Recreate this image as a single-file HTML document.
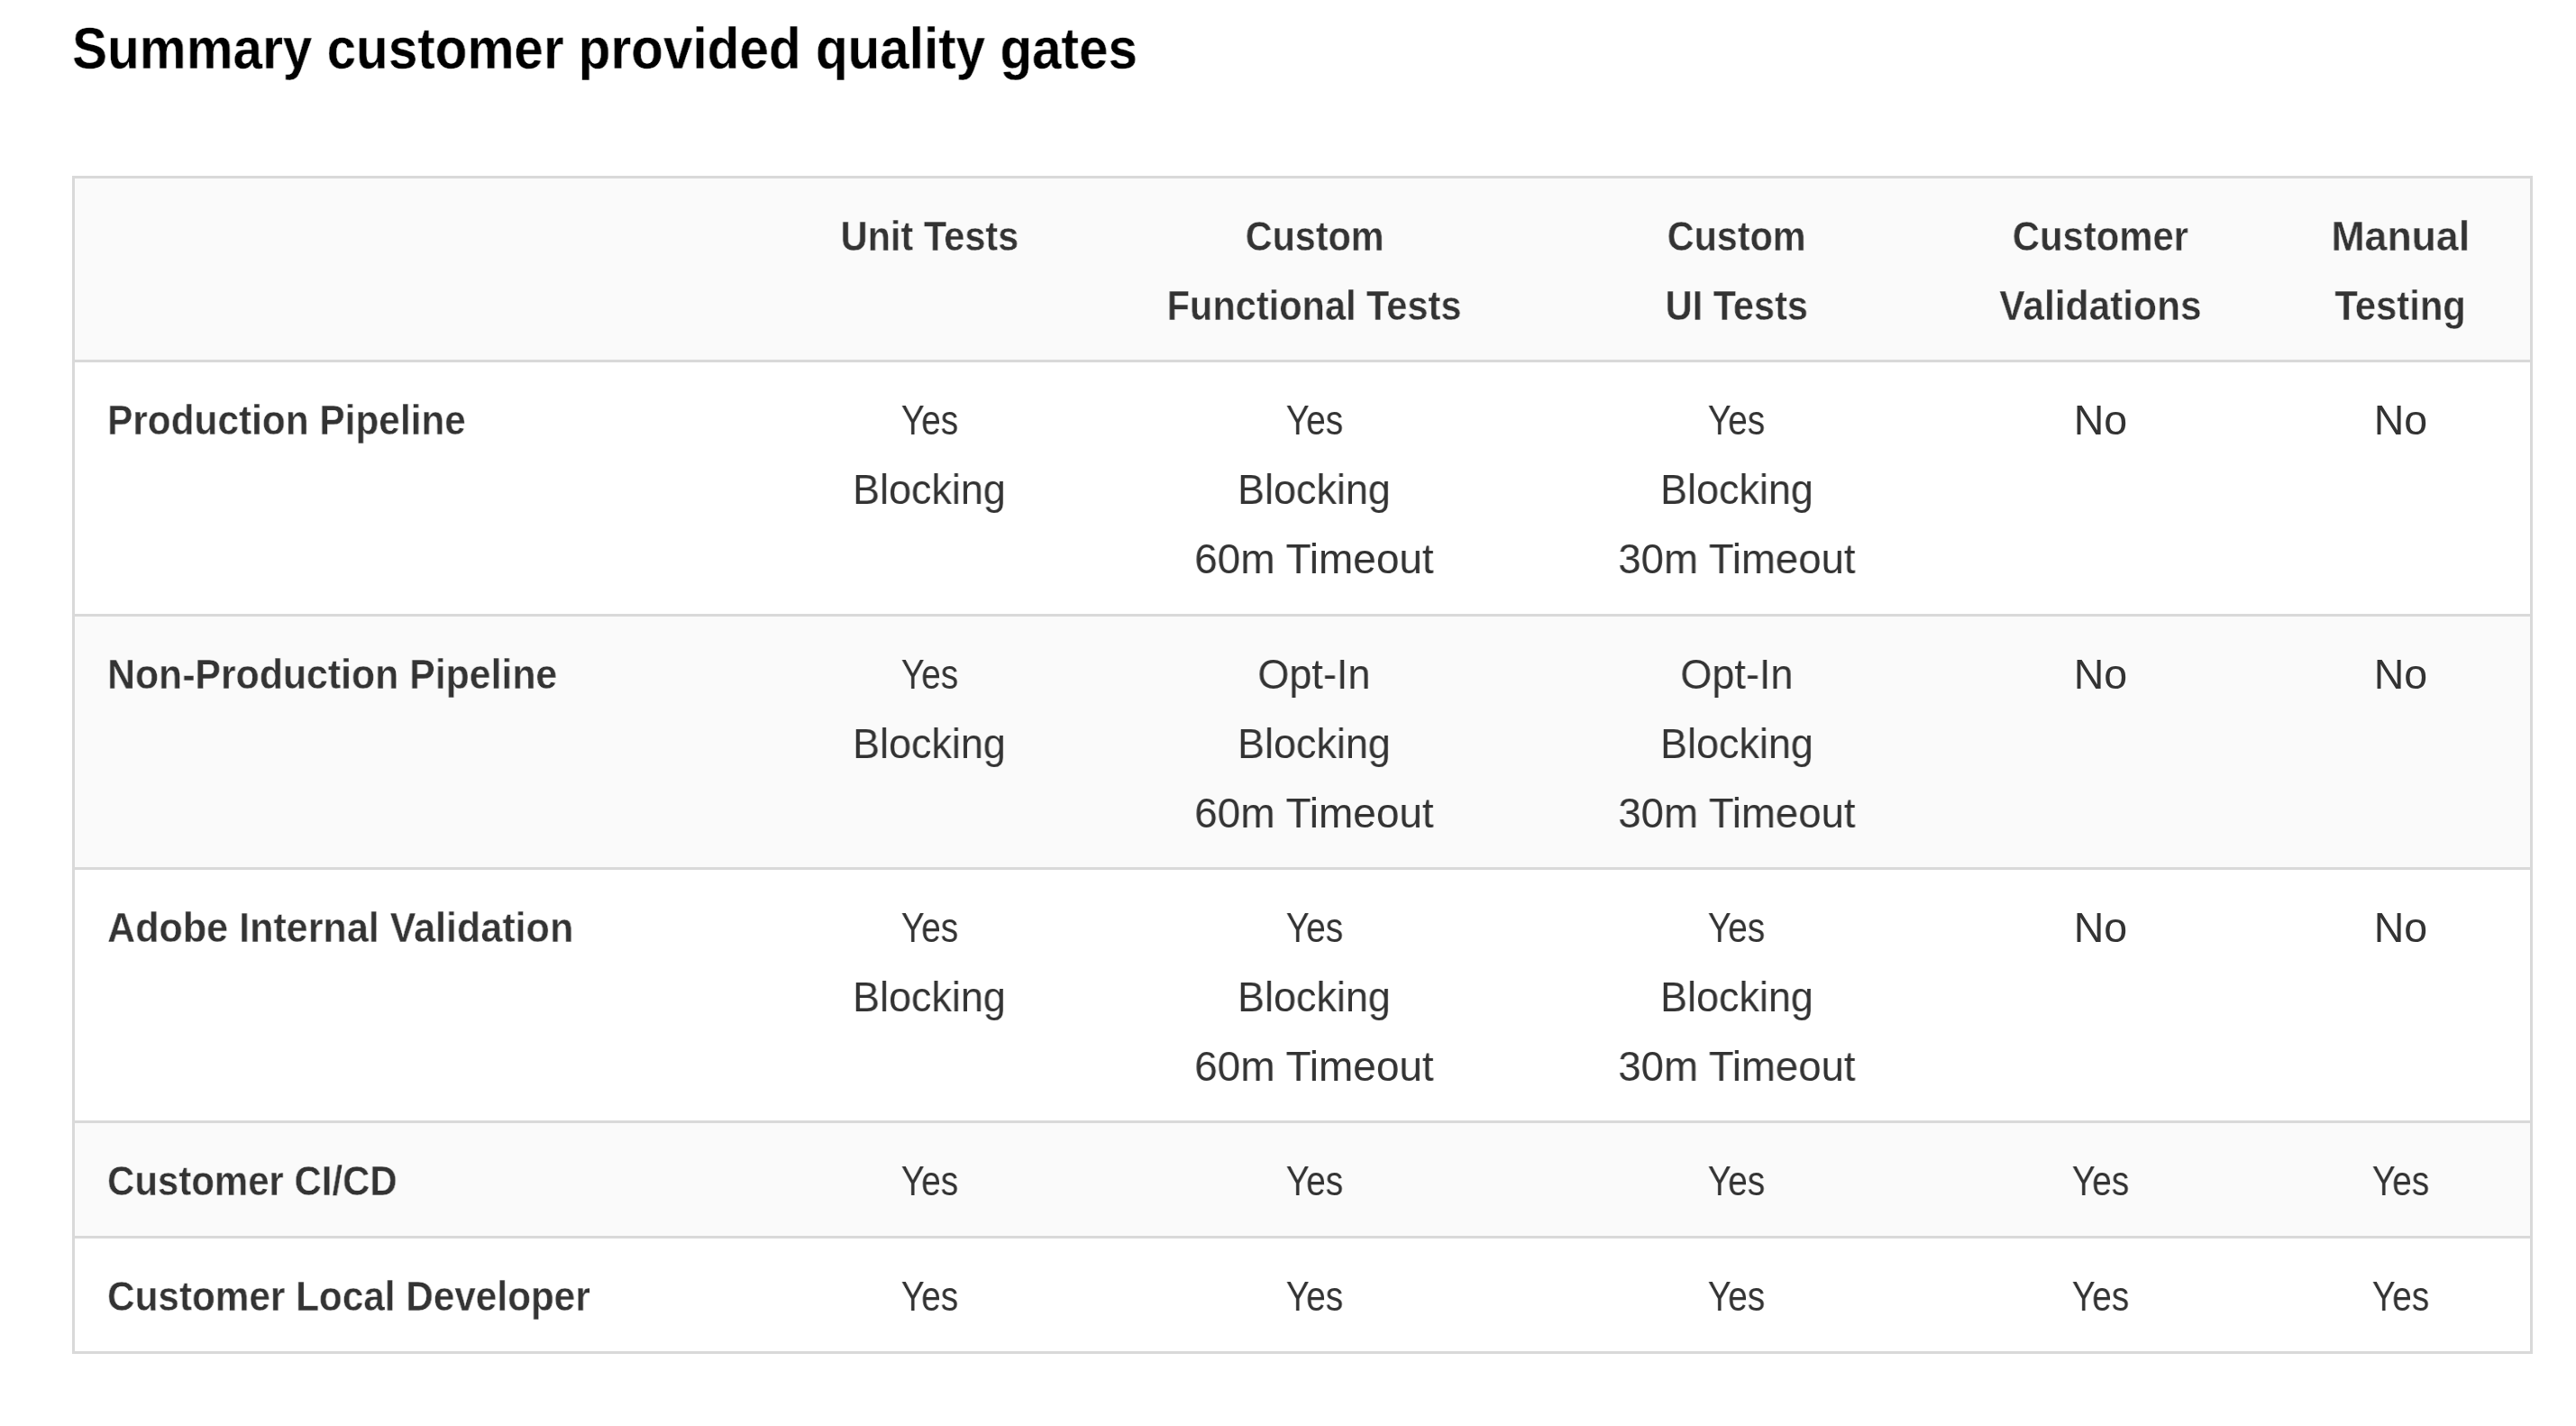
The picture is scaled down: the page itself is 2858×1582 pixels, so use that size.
<!DOCTYPE html>
<html lang="en"><head><meta charset="utf-8"><title>Summary customer provided quality gates</title>
<style>
html,body{margin:0;padding:0;background:#fff}
body{width:2858px;height:1582px;overflow:hidden;position:relative;font-family:"Liberation Sans",sans-serif;color:#333}
h1{position:absolute;left:80px;top:14px;margin:0;font-size:64px;line-height:80px;font-weight:700;color:#000;white-space:nowrap;transform:scaleX(0.913);transform-origin:0 0;will-change:transform}
table{position:absolute;left:80px;top:195px;border-collapse:separate;border-spacing:0;border:3px solid #d9d9d9;table-layout:fixed;width:2730px}
th,td{padding:26px 0 0 0;vertical-align:top;text-align:center;font-size:46px;line-height:77px;white-space:nowrap;box-sizing:border-box}
thead th{font-weight:700;background:#fafafa}
tbody td,tbody th{border-top:3px solid #d9d9d9}
tbody tr:nth-child(odd) td,tbody tr:nth-child(odd) th{background:#fff}
tbody tr:nth-child(even) td,tbody tr:nth-child(even) th{background:#fafafa}
tbody th{text-align:left;padding-left:36px;font-weight:700}
td span,th span{display:inline-block;transform-origin:50% 50%;will-change:transform}
tbody th span{transform-origin:0 50%}
thead th{-webkit-text-stroke:0.4px #fafafa}
tbody tr:nth-child(odd) th{-webkit-text-stroke:0.4px #fff}
tbody tr:nth-child(even) th{-webkit-text-stroke:0.4px #fafafa}
h1{-webkit-text-stroke:0.35px #fff}
</style></head><body>
<h1>Summary customer provided quality gates</h1>
<table>
<colgroup>
<col style="width:775.2px">
<col style="width:346.0px">
<col style="width:508.2px">
<col style="width:429.2px">
<col style="width:378.2px">
<col style="width:287.2px">
</colgroup>
<thead><tr style="height:201px"><th></th><th><span style="transform:scaleX(0.9028)">Unit Tests</span></th><th><span style="transform:scaleX(0.8982)">Custom</span><br><span style="transform:scaleX(0.9025)">Functional Tests</span></th><th><span style="transform:scaleX(0.8982)">Custom</span><br><span style="transform:scaleX(0.9006)">UI Tests</span></th><th><span style="transform:scaleX(0.9094)">Customer</span><br><span style="transform:scaleX(0.9237)">Validations</span></th><th><span style="transform:scaleX(0.9699)">Manual</span><br><span style="transform:scaleX(0.9083)">Testing</span></th></tr></thead>
<tbody>
<tr style="height:282px"><th scope="row"><span style="transform:scaleX(0.9211)">Production Pipeline</span></th><td><span style="transform:scaleX(0.8452)">Yes</span><br><span style="transform:scaleX(0.9766)">Blocking</span></td><td><span style="transform:scaleX(0.8452)">Yes</span><br><span style="transform:scaleX(0.9766)">Blocking</span><br><span style="transform:scaleX(0.9985)">60m Timeout</span></td><td><span style="transform:scaleX(0.8452)">Yes</span><br><span style="transform:scaleX(0.9766)">Blocking</span><br><span style="transform:scaleX(0.9898)">30m Timeout</span></td><td><span style="transform:scaleX(1.0113)">No</span></td><td><span style="transform:scaleX(1.0113)">No</span></td></tr>
<tr style="height:281px"><th scope="row"><span style="transform:scaleX(0.9303)">Non-Production Pipeline</span></th><td><span style="transform:scaleX(0.8452)">Yes</span><br><span style="transform:scaleX(0.9766)">Blocking</span></td><td><span style="transform:scaleX(0.978)">Opt-In</span><br><span style="transform:scaleX(0.9766)">Blocking</span><br><span style="transform:scaleX(0.9985)">60m Timeout</span></td><td><span style="transform:scaleX(0.978)">Opt-In</span><br><span style="transform:scaleX(0.9766)">Blocking</span><br><span style="transform:scaleX(0.9898)">30m Timeout</span></td><td><span style="transform:scaleX(1.0113)">No</span></td><td><span style="transform:scaleX(1.0113)">No</span></td></tr>
<tr style="height:281px"><th scope="row"><span style="transform:scaleX(0.937)">Adobe Internal Validation</span></th><td><span style="transform:scaleX(0.8452)">Yes</span><br><span style="transform:scaleX(0.9766)">Blocking</span></td><td><span style="transform:scaleX(0.8452)">Yes</span><br><span style="transform:scaleX(0.9766)">Blocking</span><br><span style="transform:scaleX(0.9985)">60m Timeout</span></td><td><span style="transform:scaleX(0.8452)">Yes</span><br><span style="transform:scaleX(0.9766)">Blocking</span><br><span style="transform:scaleX(0.9898)">30m Timeout</span></td><td><span style="transform:scaleX(1.0113)">No</span></td><td><span style="transform:scaleX(1.0113)">No</span></td></tr>
<tr style="height:128px"><th scope="row"><span style="transform:scaleX(0.912)">Customer CI/CD</span></th><td><span style="transform:scaleX(0.8452)">Yes</span></td><td><span style="transform:scaleX(0.8452)">Yes</span></td><td><span style="transform:scaleX(0.8452)">Yes</span></td><td><span style="transform:scaleX(0.8452)">Yes</span></td><td><span style="transform:scaleX(0.8452)">Yes</span></td></tr>
<tr style="height:128px"><th scope="row"><span style="transform:scaleX(0.9191)">Customer Local Developer</span></th><td><span style="transform:scaleX(0.8452)">Yes</span></td><td><span style="transform:scaleX(0.8452)">Yes</span></td><td><span style="transform:scaleX(0.8452)">Yes</span></td><td><span style="transform:scaleX(0.8452)">Yes</span></td><td><span style="transform:scaleX(0.8452)">Yes</span></td></tr>
</tbody>
</table>
</body></html>
